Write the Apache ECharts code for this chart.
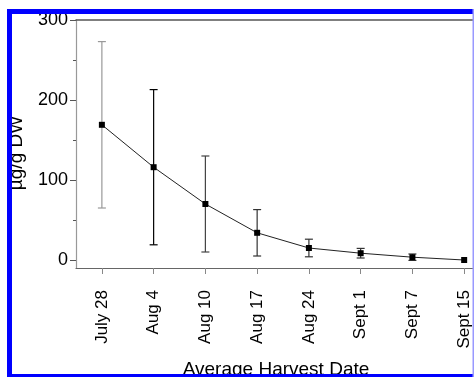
<!DOCTYPE html>
<html>
<head>
<meta charset="utf-8">
<script src="https://cdn.jsdelivr.net/npm/echarts@6/dist/echarts.min.js"></script>
<style>
html,body{margin:0;padding:0;background:#fff;overflow:hidden;}
#chart{width:474px;height:377px;}
</style>
</head>
<body>
<div id="chart"></div>
<script>
var categories = ['July 28', 'Aug 4', 'Aug 10', 'Aug 17', 'Aug 24', 'Sept 1', 'Sept 7', 'Sept 15'];
var means = [169, 116, 70, 34, 15, 8.5, 3.5, 0];
var errors = [104, 97, 60, 29, 11, 6, 4, 0];
var yTickLabels = [0, 100, 200, 300];
var yMinorTicks = [50, 150, 250];
var yTitle = 'µg/g DW';
var xTitle = 'Average Harvest Date';

var FONT = '"Liberation Sans", Arial, sans-serif';
var catIdx = categories.map(function (c, i) { return i; });
var lineData = categories.map(function (c, i) { return [i, means[i]]; });
var errData = categories.map(function (c, i) { return [i, means[i] - errors[i], means[i] + errors[i]]; });
var barColors = ['#999', '#000', '#444', '#333', '#333', '#333', '#333', '#333'];

var chart = echarts.init(document.getElementById('chart'), null, {renderer: 'canvas'});
chart.setOption({
  animation: false,
  backgroundColor: '#fff',
  grid: {left: 76, top: 20, right: 0, height: 248, containLabel: false},
  xAxis: [{
    type: 'value', min: -0.5, max: 7.19, position: 'bottom',
    axisLine: {onZero: false, lineStyle: {color: '#666', width: 1.2}},
    axisTick: {length: 6, lineStyle: {color: '#888'}, customValues: catIdx},
    axisLabel: {rotate: 90, margin: 22, color: '#000', fontSize: 17, fontFamily: FONT,
      customValues: catIdx, formatter: function (v) { return categories[Math.round(v)]; }},
    splitLine: {show: false}
  }, {
    type: 'value', min: -0.5, max: 7.19, position: 'top',
    axisLine: {onZero: false, lineStyle: {color: '#555', width: 1.5}},
    axisTick: {show: false}, axisLabel: {show: false}, splitLine: {show: false}
  }],
  yAxis: [{
    type: 'value', min: -10, max: 300, position: 'left',
    axisLine: {show: true, onZero: false, lineStyle: {color: '#999', width: 1.2}},
    axisTick: {show: true, length: 6, lineStyle: {color: '#555'}, customValues: yTickLabels},
    axisLabel: {color: '#000', fontSize: 18, fontFamily: FONT, margin: 8, customValues: yTickLabels},
    splitLine: {show: false}
  }, {
    type: 'value', min: -10, max: 300, position: 'left', offset: 0,
    axisLine: {show: false, onZero: false},
    axisTick: {show: true, length: 3, lineStyle: {color: '#555'}, customValues: yMinorTicks},
    axisLabel: {show: false, customValues: yMinorTicks},
    splitLine: {show: false}
  }],
  series: [{
    type: 'custom',
    data: errData,
    z: 2,
    renderItem: function (params, api) {
      var i = api.value(0);
      var lo = api.coord([i, api.value(1)]);
      var hi = api.coord([i, api.value(2)]);
      if (Math.abs(hi[1] - lo[1]) < 1) return null;
      var hw = 4;
      var st = {stroke: barColors[params.dataIndex], lineWidth: 1.2};
      return {type: 'group', children: [
        {type: 'line', shape: {x1: lo[0], y1: lo[1], x2: hi[0], y2: hi[1]}, style: st},
        {type: 'line', shape: {x1: hi[0] - hw, y1: hi[1], x2: hi[0] + hw, y2: hi[1]}, style: st},
        {type: 'line', shape: {x1: lo[0] - hw, y1: lo[1], x2: lo[0] + hw, y2: lo[1]}, style: st}
      ]};
    }
  }, {
    type: 'line', data: lineData, z: 3,
    symbol: 'rect', symbolSize: 6,
    itemStyle: {color: '#000'},
    lineStyle: {color: '#222', width: 1}
  }],
  graphic: [
    {type: 'text', x: 17, y: 153, rotation: Math.PI / 2, z: 50,
     style: {text: yTitle, fill: '#000', font: '19px ' + FONT, align: 'center', verticalAlign: 'middle'}},
    {type: 'text', x: 276, y: 370, z: 50,
     style: {text: xTitle, fill: '#000', font: '19px ' + FONT, align: 'center', verticalAlign: 'middle'}},
    {type: 'rect', shape: {x: 7, y: 9, width: 5, height: 368}, style: {fill: '#0000ff'}, z: 100},
    {type: 'rect', shape: {x: 7, y: 9, width: 467, height: 5}, style: {fill: '#0000ff'}, z: 100},
    {type: 'rect', shape: {x: 7, y: 374, width: 467, height: 3}, style: {fill: '#0000ff'}, z: 100},
    {type: 'rect', shape: {x: 472.5, y: 9, width: 1.5, height: 368}, style: {fill: '#9999ff'}, z: 100}
  ]
});
</script>
</body>
</html>
